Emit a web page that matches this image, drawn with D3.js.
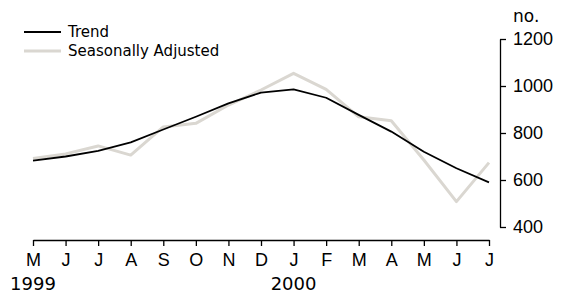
<!DOCTYPE html>
<html>
<head>
<meta charset="utf-8">
<script src="https://cdn.jsdelivr.net/npm/d3@7/dist/d3.min.js"></script>
<style>
  body { margin: 0; background: #fff; }
  svg { display: block; font-family: 'DejaVu Sans', sans-serif; }
  .axis path, .axis line { stroke: #000; stroke-width: 1.3; }
  .axis text { fill: #000; }
</style>
</head>
<body>
<svg id="chart"></svg>
<script>
const months = ['M', 'J', 'J', 'A', 'S', 'O', 'N', 'D', 'J', 'F', 'M', 'A', 'M', 'J', 'J'];
const years = [{ index: 0, label: '1999' }, { index: 8, label: '2000' }];
const trend = [682, 700, 724, 760, 815, 869, 926, 972, 986, 950, 877, 806, 720, 650, 590];
const seasonallyAdjusted = [692, 711, 745, 706, 826, 841, 919, 983, 1054, 986, 869, 852, 685, 508, 674];
const yTicks = [400, 600, 800, 1000, 1200];
const series = [
    { name: 'Trend', values: trend, color: '#000', width: 1.8 },
    { name: 'Seasonally Adjusted', values: seasonallyAdjusted, color: '#dad7d1', width: 3 }
];

const width = 564;
const height = 297;

const svg = d3.select('#chart')
    .attr('width', width)
    .attr('height', height);

const x = d3.scalePoint()
    .domain(d3.range(months.length))
    .range([33, 489]);

const y = d3.scaleLinear()
    .domain([400, 1200])
    .range([227, 39]);

// x axis
const xAxis = svg.append('g')
    .attr('class', 'axis')
    .attr('transform', 'translate(0,240)')
    .call(d3.axisBottom(x).tickSize(6).tickSizeOuter(0).tickPadding(7).tickFormat((d) => months[d]));
xAxis.selectAll('text').style('font-size', '18px');

svg.append('g')
    .selectAll('text')
    .data(years)
    .join('text')
    .attr('x', (d) => x(d.index))
    .attr('y', 290)
    .attr('text-anchor', 'middle')
    .style('font-size', '18px')
    .text((d) => d.label);

// y axis on the right
const yAxis = svg.append('g')
    .attr('class', 'axis')
    .attr('transform', 'translate(500,0)')
    .call(d3.axisRight(y).tickValues(yTicks).tickSize(6).tickSizeOuter(0).tickPadding(7).tickFormat(d3.format('d')));
yAxis.selectAll('text').style('font-size', '18px');

svg.append('text')
    .attr('x', 513)
    .attr('y', 22)
    .style('font-size', '17px')
    .text('no.');

// lines
const line = d3.line()
    .x((d, i) => x(i))
    .y((d) => y(d));

svg.append('g')
    .selectAll('path')
    .data([...series].reverse())
    .join('path')
    .attr('fill', 'none')
    .attr('stroke', (d) => d.color)
    .attr('stroke-width', (d) => d.width)
    .attr('stroke-linejoin', 'round')
    .attr('d', (d) => line(d.values));

// legend
const legend = svg.append('g')
    .selectAll('g')
    .data(series)
    .join('g')
    .attr('transform', (d, i) => `translate(24,${32 + i * 19})`);

legend.append('line')
    .attr('x1', 0)
    .attr('x2', 37)
    .attr('stroke', (d) => d.color)
    .attr('stroke-width', (d) => d.width);

legend.append('text')
    .attr('x', 44)
    .attr('dy', '0.35em')
    .style('font-size', '15px')
    .text((d) => d.name);
</script>
</body>
</html>
